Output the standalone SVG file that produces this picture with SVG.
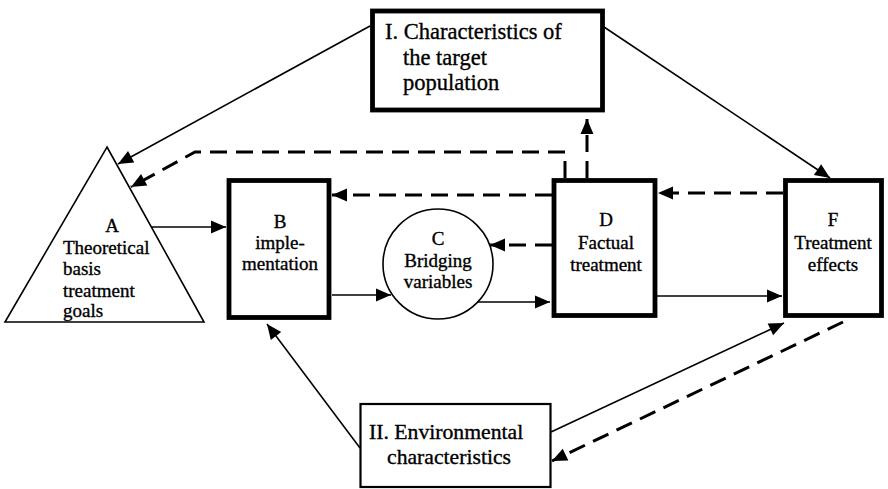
<svg xmlns="http://www.w3.org/2000/svg" width="888" height="489" viewBox="0 0 888 489">
<style>
  .t { font-family: "Liberation Serif", "Times New Roman", serif; font-size: 19px; fill: #000; stroke: #000; stroke-width: 0.35; }
  .tb { font-family: "Liberation Serif", "Times New Roman", serif; font-size: 22.5px; fill: #000; stroke: #000; stroke-width: 0.35; }
  .tc { font-family: "Liberation Serif", "Times New Roman", serif; font-size: 21.7px; fill: #000; stroke: #000; stroke-width: 0.35; }
  .m { text-anchor: middle; }
  .thick { fill: #fff; stroke: #000; stroke-width: 4.8; }
  .thin { fill: #fff; stroke: #000; stroke-width: 1.6; }
  .sol { fill: none; stroke: #000; stroke-width: 1.6; marker-end: url(#ah); }
  .dash { fill: none; stroke: #000; stroke-width: 3; stroke-dasharray: 17 9; marker-end: url(#ah); }
</style>
<defs>
  <marker id="ah" markerUnits="userSpaceOnUse" markerWidth="16" markerHeight="14" refX="15" refY="6.5" orient="auto" overflow="visible">
    <path d="M0,0 L15,6.5 L0,13 Z" fill="#000"/>
  </marker>
</defs>
<rect width="888" height="489" fill="#fff"/>

<g id="connectors">
  <line class="sol" x1="370" y1="26" x2="118" y2="164"/>
  <line class="sol" x1="604" y1="27" x2="830" y2="178"/>
  <line class="sol" x1="151" y1="227" x2="226" y2="227"/>
  <line class="sol" x1="332" y1="295" x2="391" y2="295"/>
  <line class="sol" x1="477" y1="302" x2="550" y2="302"/>
  <line class="sol" x1="657" y1="296" x2="782" y2="296"/>
  <line class="sol" x1="360" y1="448" x2="267" y2="324"/>
  <line class="sol" x1="551" y1="432" x2="784" y2="323"/>
  <path class="dash" d="M565,178 L565,152 L195,152 L131,187"/>
  <line class="dash" x1="587" y1="178" x2="587" y2="119"/>
  <line class="dash" x1="552" y1="195" x2="332" y2="195"/>
  <line class="dash" x1="552" y1="245" x2="490" y2="245"/>
  <line class="dash" x1="783" y1="193" x2="658" y2="193"/>
  <line class="dash" x1="843" y1="322" x2="552" y2="461"/>
</g>

<g id="nodeI">
  <rect class="thick" x="372.5" y="11" width="230" height="99"/>
  <text class="tb" x="385" y="39">I. Characteristics of</text>
  <text class="tb" x="403" y="65">the target</text>
  <text class="tb" x="403" y="90">population</text>
</g>

<g id="nodeA">
  <polygon class="thin" points="107,147 204,322 5,322"/>
  <text class="t m" x="112" y="232">A</text>
  <text class="t" x="63" y="253.5">Theoretical</text>
  <text class="t" x="63" y="275">basis</text>
  <text class="t" x="63" y="296.5">treatment</text>
  <text class="t" x="63" y="317">goals</text>
</g>

<g id="nodeB">
  <rect class="thick" x="229" y="180.5" width="100" height="137"/>
  <text class="t m" x="280" y="228">B</text>
  <text class="t m" x="280" y="249">imple-</text>
  <text class="t m" x="280" y="270">mentation</text>
</g>

<g id="nodeC">
  <circle class="thin" cx="438" cy="264" r="55"/>
  <text class="t m" x="438" y="245">C</text>
  <text class="t m" x="438" y="267">Bridging</text>
  <text class="t m" x="438" y="288">variables</text>
</g>

<g id="nodeD">
  <rect class="thick" x="554" y="180.5" width="101" height="135"/>
  <text class="t m" x="606" y="226">D</text>
  <text class="t m" x="606" y="249">Factual</text>
  <text class="t m" x="606" y="271">treatment</text>
</g>

<g id="nodeF">
  <rect class="thick" x="785.5" y="180.5" width="96" height="135"/>
  <text class="t m" x="833" y="226">F</text>
  <text class="t m" x="833" y="249">Treatment</text>
  <text class="t m" x="833" y="271">effects</text>
</g>

<g id="nodeII">
  <rect class="thin" x="360.5" y="404" width="190" height="83" style="stroke-width:2.2"/>
  <text class="tc" x="369" y="439">II. Environmental</text>
  <text class="tc" x="387" y="464">characteristics</text>
</g>
</svg>
